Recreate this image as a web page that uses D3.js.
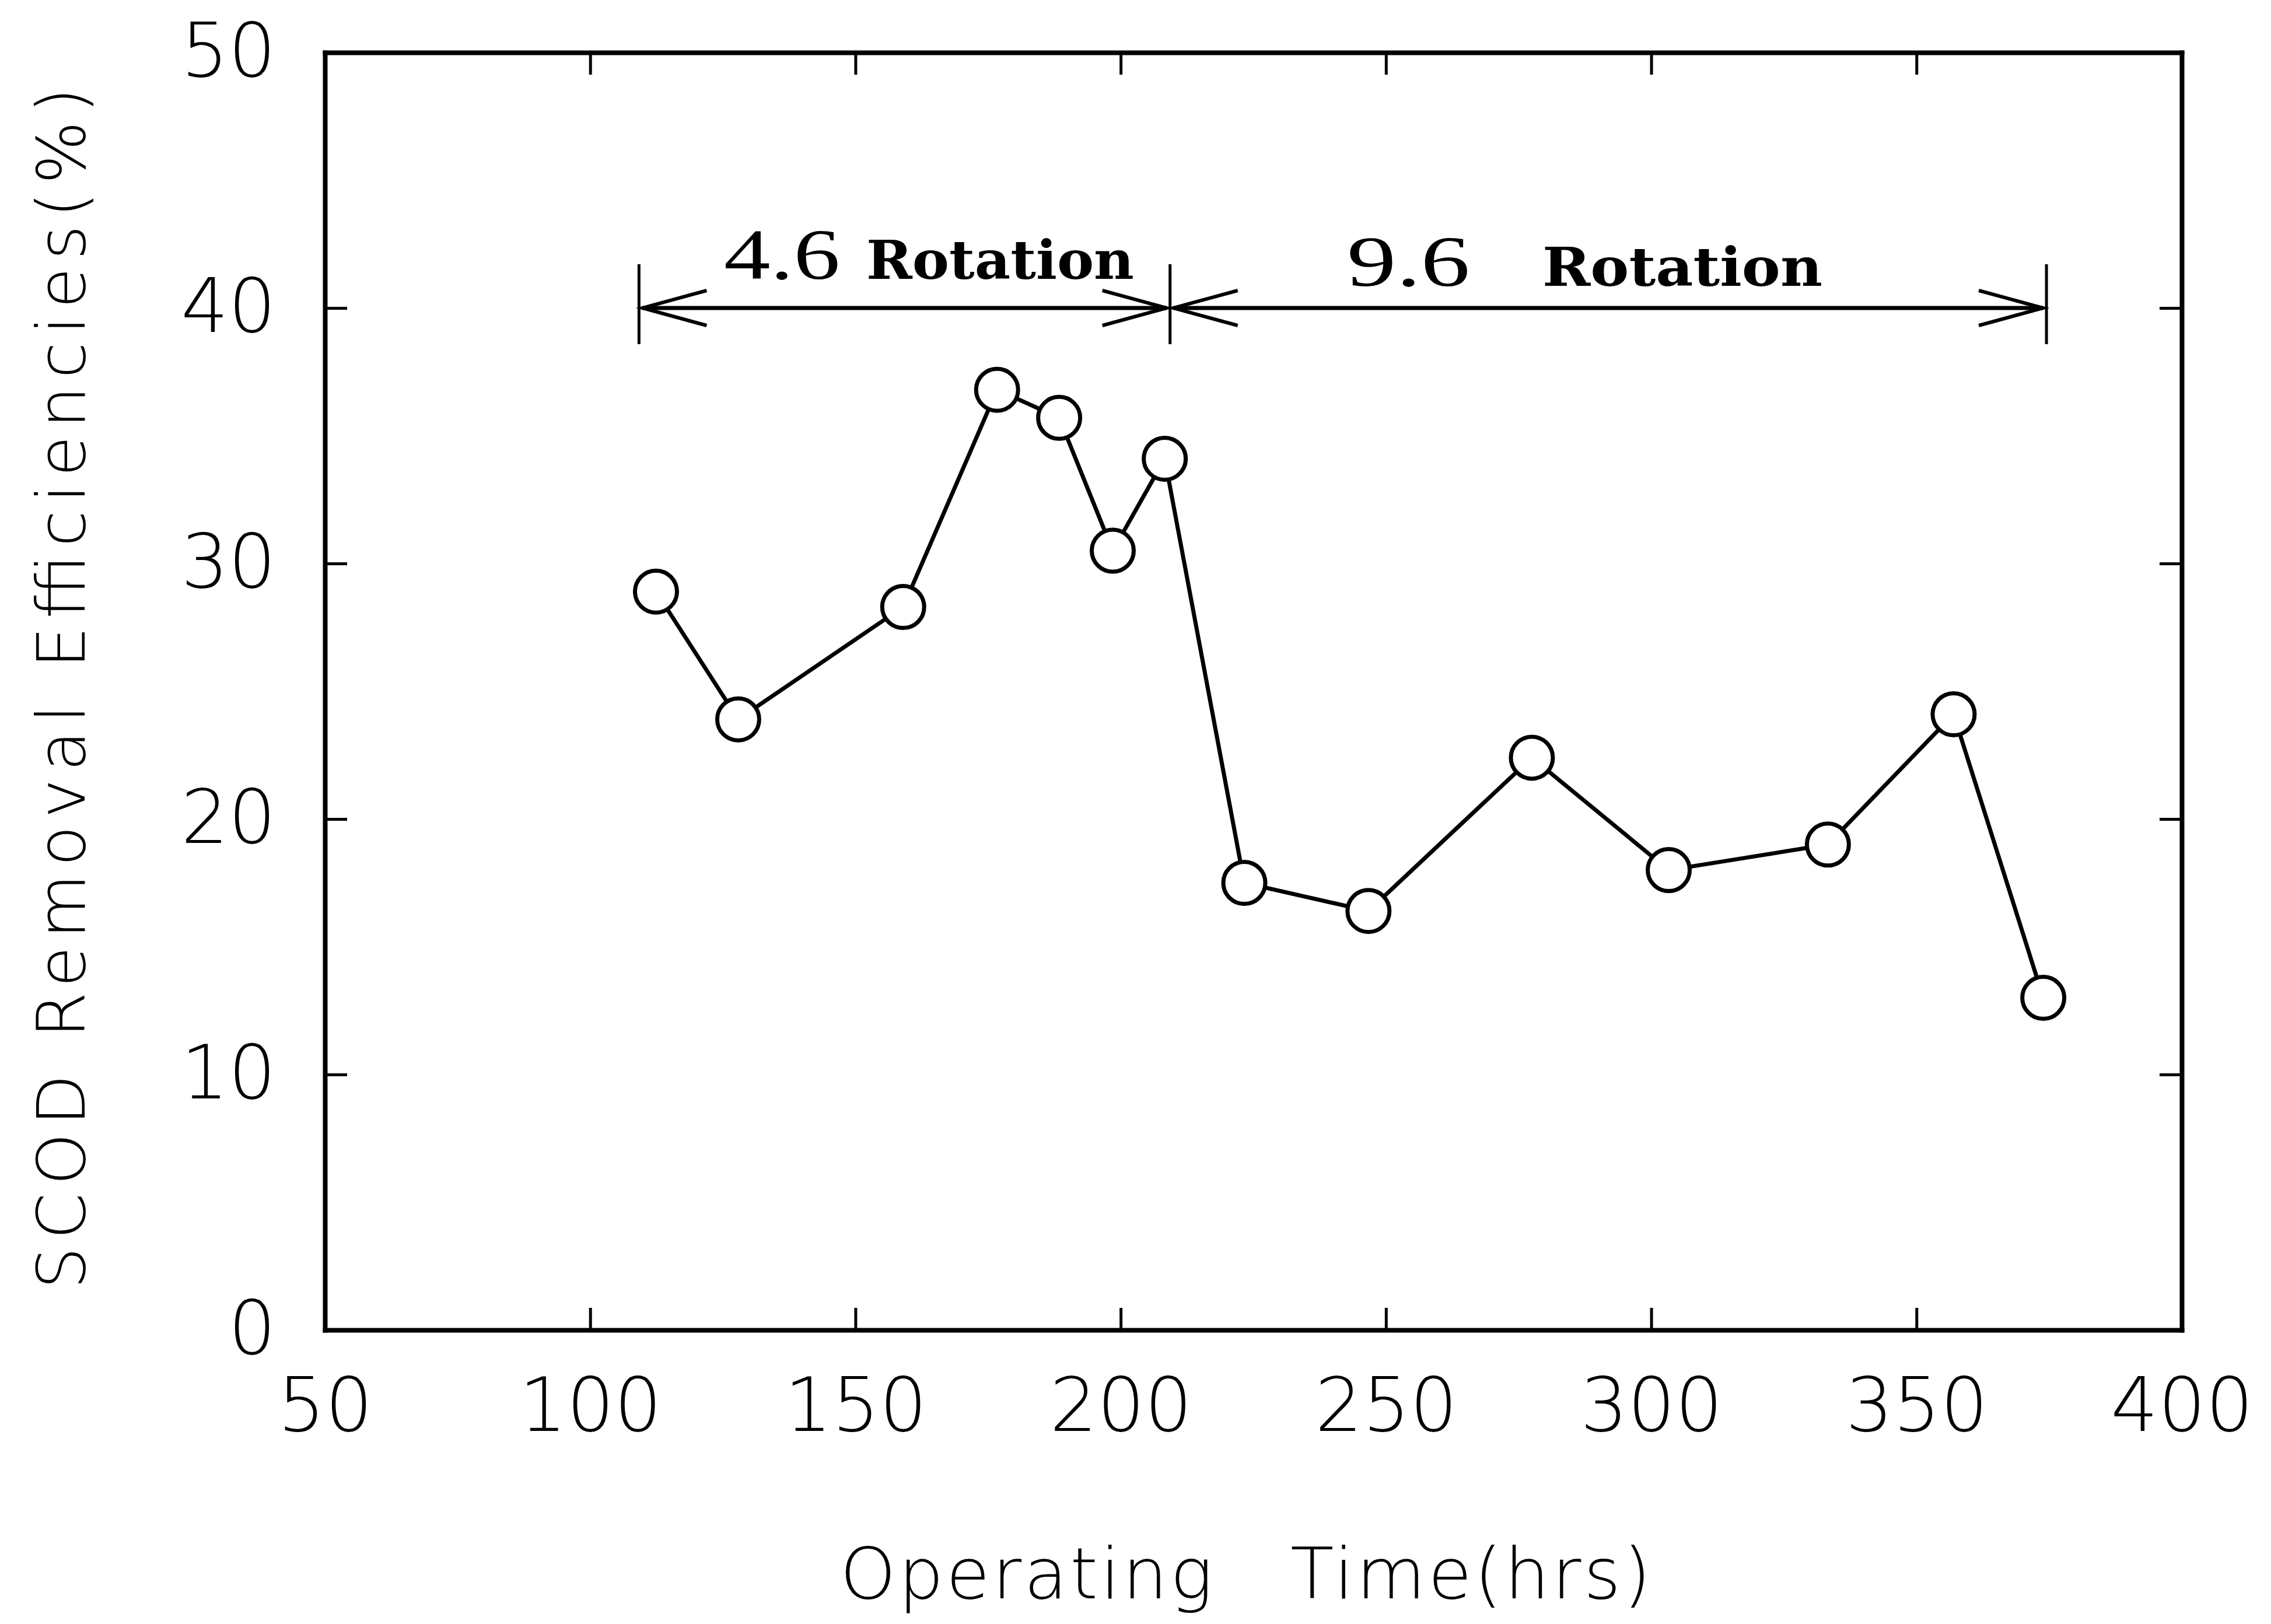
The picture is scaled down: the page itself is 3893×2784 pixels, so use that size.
<!DOCTYPE html>
<html><head><meta charset="utf-8">
<script src="https://cdn.jsdelivr.net/npm/d3@7"></script>
<style>html,body{margin:0;padding:0;background:#fff;} svg{display:block;}</style>
</head><body><svg id="chart" width="3893" height="2784"></svg>
<script>
// ---- data ----
const hours = [112.4, 127.9, 159.0, 176.7, 188.4, 198.5, 208.3, 223.3, 246.7, 277.5, 303.3, 333.3, 357.0, 373.9];
const efficiency = [28.9, 23.9, 28.3, 36.8, 35.7, 30.5, 34.1, 17.5, 16.4, 22.4, 18.0, 19.0, 24.1, 13.0];
const xTicks = [50, 100, 150, 200, 250, 300, 350, 400];
const yTicks = [0, 10, 20, 30, 40, 50];
const spanBounds = [109.2, 209.3, 374.5];
const spanNumbers = ["4.6", "9.6"];
const spanWord = "Rotation";
const spanLevel = 40;
const xTitle = "Operating   Time(hrs)";
const yTitle = "SCOD Removal Efficiencies(%)";

// ---- layout ----
const W = 3893, H = 2784;
const L = 557, R = 3740, T = 90, B = 2280;
const svg = d3.select("#chart");
svg.append("rect").attr("width", W).attr("height", H).attr("fill", "#fff");

const x = d3.scaleLinear().domain([50, 400]).range([L, R]);
const y = d3.scaleLinear().domain([0, 50]).range([B, T]);

const sansFont = "'DejaVu Sans', sans-serif";
const tickLen = 38;

function styleAxis(g) {
  g.select(".domain").attr("stroke", "#000").attr("stroke-width", 8).attr("stroke-linecap", "square");
  g.selectAll(".tick line").attr("stroke", "#000").attr("stroke-width", 5);
  g.selectAll(".tick text").attr("fill", "#000")
    .style("font-family", sansFont).style("font-weight", 200).style("font-size", "128px");
}

// bottom
const gB = svg.append("g").attr("transform", `translate(0,${B})`)
  .call(d3.axisBottom(x).tickValues(xTicks).tickSizeInner(-tickLen).tickSizeOuter(0).tickPadding(82).tickFormat(d3.format("d")));
styleAxis(gB);
gB.selectAll(".tick text").attr("dy", "0.71em");
// top
const gT = svg.append("g").attr("transform", `translate(0,${T})`)
  .call(d3.axisTop(x).tickValues(xTicks).tickSizeInner(-tickLen).tickSizeOuter(0).tickFormat(""));
styleAxis(gT);
// left
const gL = svg.append("g").attr("transform", `translate(${L},0)`)
  .call(d3.axisLeft(y).tickValues(yTicks).tickSizeInner(-tickLen).tickSizeOuter(0).tickPadding(84).tickFormat(d3.format("d")));
styleAxis(gL);
// right
const gR = svg.append("g").attr("transform", `translate(${R},0)`)
  .call(d3.axisRight(y).tickValues(yTicks).tickSizeInner(-tickLen).tickSizeOuter(0).tickFormat(""));
styleAxis(gR);

// ---- axis titles ----
svg.append("text")
  .attr("x", 2135).attr("y", 2740)
  .attr("text-anchor", "middle")
  .attr("textLength", 1390).attr("lengthAdjust", "spacing")
  .attr("xml:space", "preserve").style("white-space", "pre")
  .style("font-family", sansFont).style("font-weight", 200).style("font-size", "122px")
  .text(xTitle);

svg.append("text")
  .attr("transform", `translate(145,1180) rotate(-90)`)
  .attr("text-anchor", "middle")
  .attr("textLength", 2060).attr("lengthAdjust", "spacing")
  .style("font-family", sansFont).style("font-weight", 200).style("font-size", "114px")
  .text(yTitle);

// ---- data line + markers ----
const pts = hours.map((h, i) => [h, efficiency[i]]);
svg.append("path")
  .datum(pts)
  .attr("fill", "none").attr("stroke", "#000").attr("stroke-width", 7)
  .attr("d", d3.line().x(d => x(d[0])).y(d => y(d[1])));
svg.selectAll("circle.pt").data(pts).enter().append("circle")
  .attr("class", "pt")
  .attr("cx", d => x(d[0])).attr("cy", d => y(d[1]))
  .attr("r", 36)
  .attr("fill", "#fff").attr("stroke", "#000").attr("stroke-width", 7);

// ---- rotation span annotations ----
const ay = y(spanLevel);
const ann = svg.append("g").attr("stroke", "#000").attr("fill", "none");
spanBounds.forEach(b => {
  ann.append("line").attr("x1", x(b)).attr("x2", x(b))
    .attr("y1", ay - 75).attr("y2", ay + 62).attr("stroke-width", 5);
});
for (let i = 0; i < spanNumbers.length; i++) {
  const x0 = x(spanBounds[i]) + 6, x1 = x(spanBounds[i + 1]) - 6;
  ann.append("line").attr("x1", x0).attr("x2", x1).attr("y1", ay).attr("y2", ay).attr("stroke-width", 7);
  ann.append("path").attr("stroke-width", 6)
    .attr("d", `M${x0 + 110},${ay - 30} L${x0},${ay} L${x0 + 110},${ay + 30}`);
  ann.append("path").attr("stroke-width", 6)
    .attr("d", `M${x1 - 110},${ay - 30} L${x1},${ay} L${x1 - 110},${ay + 30}`);
}
// labels
const labelSpecs = [
  { numX: 1241, numW: 199, wordX: 1485, wordW: 459, base: 478 },
  { numX: 2309, numW: 211, wordX: 2644, wordW: 480, base: 490 }
];
spanNumbers.forEach((n, i) => {
  const s = labelSpecs[i];
  svg.append("text").attr("x", s.numX).attr("y", s.base)
    .attr("textLength", s.numW).attr("lengthAdjust", "spacingAndGlyphs")
    .style("font-family", "'Liberation Serif', serif").style("font-size", "122px")
    .text(n);
  svg.append("text").attr("x", s.wordX).attr("y", s.base)
    .attr("textLength", s.wordW).attr("lengthAdjust", "spacingAndGlyphs")
    .style("font-family", "'DejaVu Serif', serif").style("font-weight", "bold").style("font-size", "92px")
    .text(spanWord);
});
</script>
</body></html>
